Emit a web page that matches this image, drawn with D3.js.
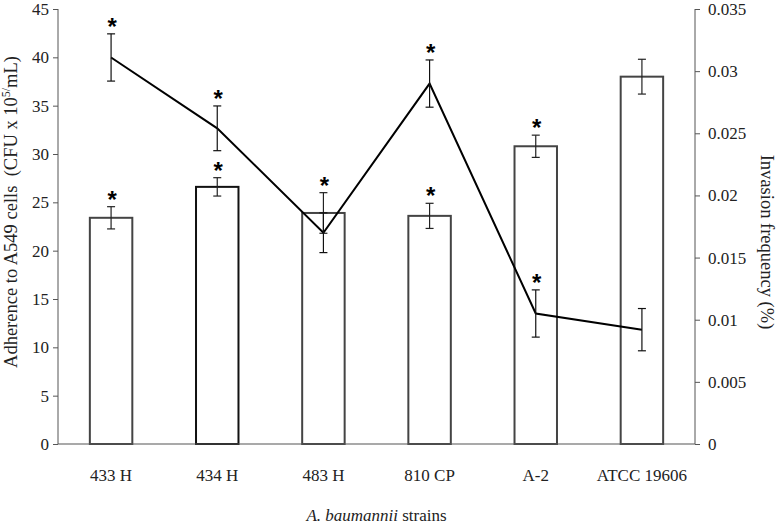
<!DOCTYPE html>
<html>
<head>
<meta charset="utf-8">
<script src="https://cdn.jsdelivr.net/npm/d3@7"></script>
<style>
  html, body { margin: 0; padding: 0; background: #fff; }
  svg { display: block; font-family: "Liberation Serif", "Times New Roman", serif; }
</style>
</head>
<body>
<svg id="chart" width="776" height="529"></svg>
<script>
const categories = ["433 H", "434 H", "483 H", "810 CP", "A-2", "ATCC 19606"];
const adherence = [23.4, 26.6, 23.9, 23.6, 30.8, 38.0];
const adherenceErr = [1.15, 0.95, 2.1, 1.3, 1.15, 1.8];
const adherenceSig = [true, true, true, true, true, false];
const invasion = [0.0311, 0.0254, 0.0170, 0.0290, 0.0105, 0.0092];
const invasionErr = [0.0019, 0.0018, 0.0016, 0.0019, 0.0019, 0.0017];
const invasionSig = [true, true, false, true, true, false];
const leftTicks = [0, 5, 10, 15, 20, 25, 30, 35, 40, 45];
const rightTicks = [0, 0.005, 0.01, 0.015, 0.02, 0.025, 0.03, 0.035];
const rightTickLabels = ["0", "0.005", "0.01", "0.015", "0.02", "0.025", "0.03", "0.035"];

const svg = d3.select("#chart");
const L = 58, R = 695, T = 9, B = 444;
const axisColor = "#555";

const x = d3.scaleBand().domain(categories).range([L, R]).paddingInner(0.6).paddingOuter(0.3);
const yL = d3.scaleLinear().domain([0, 45]).range([B, T]);
const yR = d3.scaleLinear().domain([0, 0.035]).range([B, T]);
const cx = c => x(c) + x.bandwidth() / 2;

// bars
svg.append("g").selectAll("rect").data(categories).join("rect")
  .attr("x", c => x(c)).attr("width", x.bandwidth())
  .attr("y", (c, i) => yL(adherence[i])).attr("height", (c, i) => B - yL(adherence[i]))
  .attr("fill", "#fff")
  .attr("stroke", (c, i) => i === 1 ? "#111" : "#444")
  .attr("stroke-width", 2);

// error bars helper
function errBars(g, vals, errs, scale) {
  const cap = 4;
  categories.forEach((c, i) => {
    const xc = cx(c), y1 = scale(vals[i] + errs[i]), y2 = scale(vals[i] - errs[i]);
    g.append("line").attr("x1", xc).attr("x2", xc).attr("y1", y1).attr("y2", y2);
    g.append("line").attr("x1", xc - cap).attr("x2", xc + cap).attr("y1", y1).attr("y2", y1);
    g.append("line").attr("x1", xc - cap).attr("x2", xc + cap).attr("y1", y2).attr("y2", y2);
  });
}
const gErrBar = svg.append("g").attr("stroke", "#222").attr("stroke-width", 1.2);
errBars(gErrBar, adherence, adherenceErr, yL);

// axes
const axL = svg.append("g").attr("transform", `translate(${L},0)`)
  .call(d3.axisLeft(yL).tickValues(leftTicks).tickSize(5).tickPadding(4).tickFormat(d3.format("d")));
const axR = svg.append("g").attr("transform", `translate(${R},0)`)
  .call(d3.axisRight(yR).tickValues(rightTicks).tickSize(5).tickPadding(8)
    .tickFormat((d, i) => rightTickLabels[i]));
[axL, axR].forEach(a => {
  a.select(".domain").attr("stroke", axisColor).attr("d", `M0,${T}V${B}`);
  a.selectAll(".tick line").attr("stroke", axisColor);
  a.selectAll(".tick text").attr("fill", "#222").style("font-size", "17px")
    .style("font-family", "'Liberation Serif', serif");
});
svg.append("line").attr("x1", L).attr("x2", R).attr("y1", B).attr("y2", B)
  .attr("stroke", axisColor).attr("stroke-width", 1.2);

// line
svg.append("path").datum(categories)
  .attr("fill", "none").attr("stroke", "#000").attr("stroke-width", 2)
  .attr("d", d3.line().x(c => cx(c)).y((c, i) => yR(invasion[i])));
const gErrLine = svg.append("g").attr("stroke", "#111").attr("stroke-width", 1.2);
errBars(gErrLine, invasion, invasionErr, yR);

// asterisks
const starOff = -1;
categories.forEach((c, i) => {
  if (adherenceSig[i]) {
    svg.append("text").attr("x", cx(c) + 1).attr("y", yL(adherence[i] + adherenceErr[i]) - starOff)
      .attr("text-anchor", "middle").style("font-size", "24px").style("font-weight", "bold")
      .style("font-family", "'Liberation Sans', sans-serif").text("*");
  }
  if (invasionSig[i]) {
    svg.append("text").attr("x", cx(c) + 1).attr("y", yR(invasion[i] + invasionErr[i]) - starOff)
      .attr("text-anchor", "middle").style("font-size", "24px").style("font-weight", "bold")
      .style("font-family", "'Liberation Sans', sans-serif").text("*");
  }
});

// x labels
svg.append("g").selectAll("text").data(categories).join("text")
  .attr("x", c => cx(c)).attr("y", 481).attr("text-anchor", "middle")
  .attr("fill", "#222").style("font-size", "17px").text(c => c);

// axis titles
const lt = svg.append("text").attr("transform", "translate(17,212) rotate(-90)")
  .attr("text-anchor", "middle").attr("fill", "#222").style("font-size", "18.5px");
lt.append("tspan").text("Adherence to A549 cells\u00a0 (CFU x 10");
lt.append("tspan").attr("dy", -7).style("font-size", "12px").text("5/");
lt.append("tspan").attr("dy", 7).text("mL)");

svg.append("text").attr("transform", "translate(761,242) rotate(90)")
  .attr("text-anchor", "middle").attr("fill", "#222").style("font-size", "18.5px")
  .text("Invasion frequency (%)");

const xt = svg.append("text").attr("x", (L + R) / 2).attr("y", 521).attr("text-anchor", "middle")
  .attr("fill", "#222").style("font-size", "17px");
xt.append("tspan").style("font-style", "italic").text("A. baumannii");
xt.append("tspan").text(" strains");
</script>
</body>
</html>
